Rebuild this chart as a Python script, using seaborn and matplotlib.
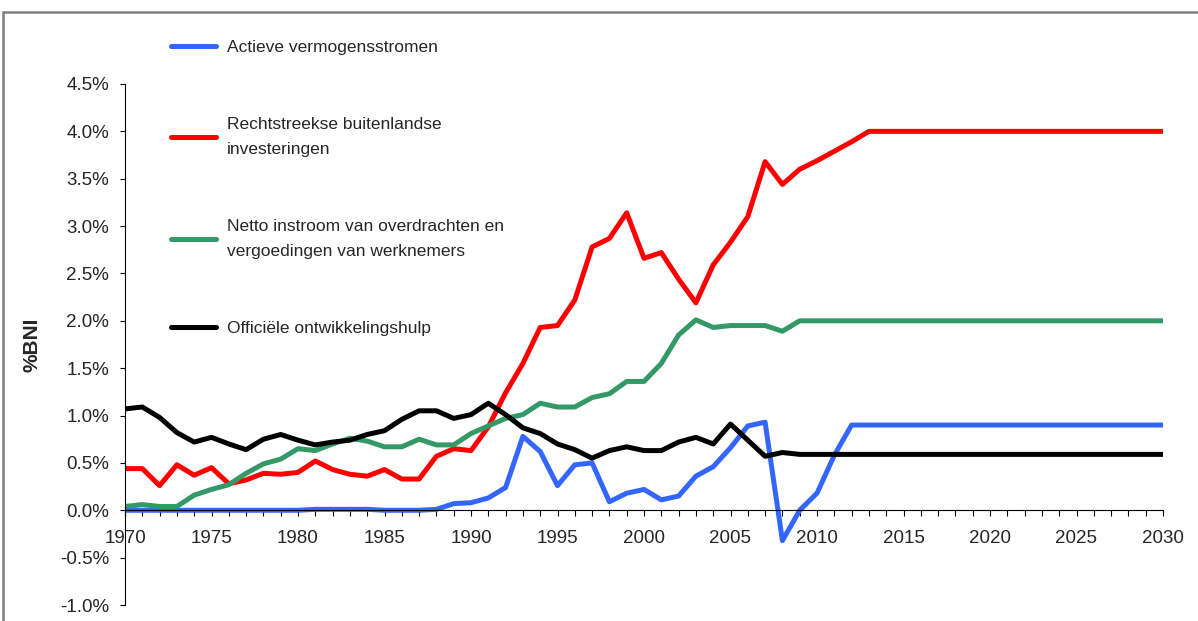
import numpy as np
import pandas as pd
import matplotlib
matplotlib.use("Agg")
import matplotlib.pyplot as plt
from matplotlib.lines import Line2D
from matplotlib.patches import Rectangle
import seaborn as sns

years = list(range(1970, 2031))

actieve = [0.0, 0.0, 0.0, 0.0, 0.0, 0.0, 0.0, 0.0, 0.0, 0.0,
           0.0, 0.01, 0.01, 0.01, 0.01, 0.0, 0.0, 0.0, 0.01, 0.07,
           0.08, 0.13, 0.24, 0.78, 0.62, 0.26, 0.48, 0.50, 0.09, 0.18,
           0.22, 0.11, 0.15, 0.36, 0.46, 0.66, 0.89, 0.93, -0.32, 0.0,
           0.18, 0.58, 0.90, 0.90, 0.90, 0.90, 0.90, 0.90, 0.90, 0.90,
           0.90, 0.90, 0.90, 0.90, 0.90, 0.90, 0.90, 0.90, 0.90, 0.90,
           0.90]

rbi = [0.44, 0.44, 0.26, 0.48, 0.37, 0.45, 0.28, 0.32, 0.39, 0.38,
       0.40, 0.52, 0.43, 0.38, 0.36, 0.43, 0.33, 0.33, 0.57, 0.65,
       0.63, 0.88, 1.24, 1.55, 1.93, 1.95, 2.22, 2.78, 2.87, 3.14,
       2.66, 2.72, 2.44, 2.19, 2.59, 2.83, 3.10, 3.68, 3.44, 3.60,
       3.69, 3.79, 3.89, 4.0, 4.0, 4.0, 4.0, 4.0, 4.0, 4.0,
       4.0, 4.0, 4.0, 4.0, 4.0, 4.0, 4.0, 4.0, 4.0, 4.0,
       4.0]

netto = [0.04, 0.06, 0.04, 0.04, 0.16, 0.22, 0.27, 0.39, 0.49, 0.54,
         0.65, 0.63, 0.70, 0.76, 0.73, 0.67, 0.67, 0.75, 0.69, 0.69,
         0.81, 0.89, 0.97, 1.01, 1.13, 1.09, 1.09, 1.19, 1.23, 1.36,
         1.36, 1.55, 1.85, 2.01, 1.93, 1.95, 1.95, 1.95, 1.89, 2.0,
         2.0, 2.0, 2.0, 2.0, 2.0, 2.0, 2.0, 2.0, 2.0, 2.0,
         2.0, 2.0, 2.0, 2.0, 2.0, 2.0, 2.0, 2.0, 2.0, 2.0,
         2.0]

oda = [1.07, 1.09, 0.98, 0.82, 0.72, 0.77, 0.70, 0.64, 0.75, 0.80,
       0.74, 0.69, 0.72, 0.74, 0.80, 0.84, 0.96, 1.05, 1.05, 0.97,
       1.01, 1.13, 1.01, 0.87, 0.81, 0.70, 0.64, 0.55, 0.63, 0.67,
       0.63, 0.63, 0.72, 0.77, 0.70, 0.91, 0.74, 0.57, 0.61, 0.59,
       0.59, 0.59, 0.59, 0.59, 0.59, 0.59, 0.59, 0.59, 0.59, 0.59,
       0.59, 0.59, 0.59, 0.59, 0.59, 0.59, 0.59, 0.59, 0.59, 0.59,
       0.59]

SERIES = ["Actieve vermogensstromen",
          "Rechtstreekse buitenlandse\ninvesteringen",
          "Netto instroom van overdrachten en\nvergoedingen van werknemers",
          "Officiële ontwikkelingshulp"]
PALETTE = {SERIES[0]: "#3366ff", SERIES[1]: "#ff0000",
           SERIES[2]: "#339966", SERIES[3]: "#000000"}

df = pd.DataFrame({"jaar": years, SERIES[0]: actieve, SERIES[1]: rbi,
                   SERIES[2]: netto, SERIES[3]: oda})
long_df = df.melt(id_vars="jaar", var_name="reeks", value_name="bni")

sns.set_style("white")
plt.rcParams["font.family"] = ["Liberation Sans", "DejaVu Sans"]

fig = plt.figure(figsize=(11.98, 6.21), dpi=100)
ax = fig.add_axes([125 / 1198, 1 - 605 / 621, 1038 / 1198, 521 / 621])

sns.lineplot(data=long_df, x="jaar", y="bni", hue="reeks", hue_order=SERIES,
             palette=PALETTE, linewidth=3.6, legend=False, ax=ax,
             solid_capstyle="round")

ax.set_xlim(1970, 2030)
ax.set_ylim(-1.0, 4.5)

yt = np.arange(-1.0, 4.51, 0.5)
ax.set_yticks(yt)
ax.set_yticklabels([f"{v:.1f}%" for v in yt])
ax.set_xticks(range(1970, 2031, 5))
ax.set_xticks(range(1970, 2031), minor=True)

ax.spines["top"].set_visible(False)
ax.spines["right"].set_visible(False)
ax.spines["bottom"].set_position(("data", 0))
for s in ["bottom", "left"]:
    ax.spines[s].set_color("black")
    ax.spines[s].set_linewidth(0.8)

ax.tick_params(axis="x", which="both", direction="out", length=4.5, width=0.8,
               color="black", bottom=True, labelsize=13.5, pad=10)
ax.tick_params(axis="y", which="major", direction="out", length=3.5, width=0.8,
               color="black", left=True, labelsize=13.5, pad=8)

ax.set_xlabel("")
ax.set_ylabel("%BNI", fontsize=15, fontweight="bold")
ax.yaxis.set_label_coords(-0.08, 0.5)

handles = [Line2D([], [], color=PALETTE[s], linewidth=3.6, solid_capstyle="round")
           for s in SERIES]
leg = fig.legend(handles, SERIES, loc="upper left",
                 bbox_to_anchor=(171 / 1198, 1 - 40 / 621), frameon=False,
                 fontsize=12.5, handlelength=2.6, handletextpad=0.6,
                 labelspacing=3.55, borderpad=0, borderaxespad=0)
for t in leg.get_texts():
    t.set_linespacing(1.85)

fig.add_artist(Rectangle((3 / 1198, -0.2), 1.2, 1.2 - 12 / 621,
                         transform=fig.transFigure, fill=False,
                         edgecolor="#7f7f7f", linewidth=1.8))

fig.savefig("out.png", dpi=100)
